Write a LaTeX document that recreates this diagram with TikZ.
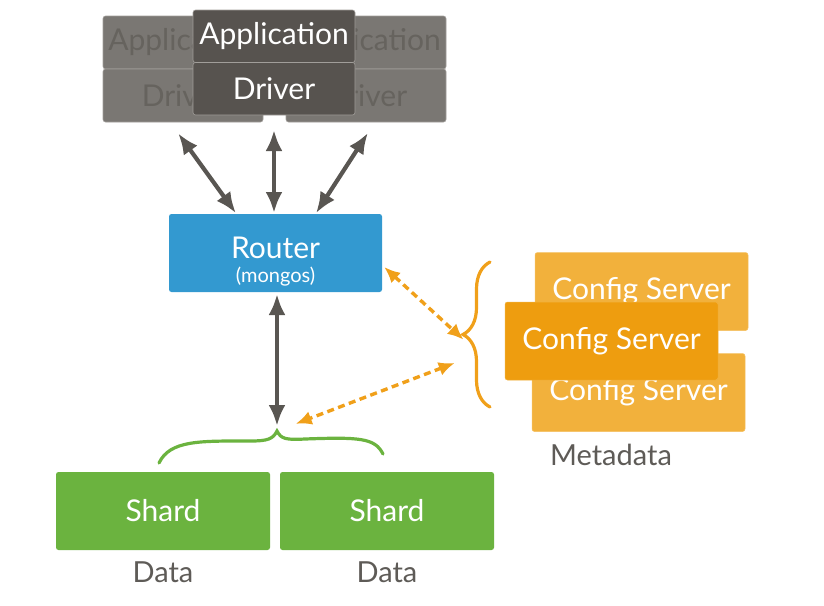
\documentclass[tikz,border=0pt]{standalone}
\usepackage{fontspec}
\setmainfont{Lato}
\usepackage{xcolor}
\usetikzlibrary{arrows.meta,positioning,calc,decorations.pathreplacing}
\definecolor{appdark}{HTML}{57534F}
\definecolor{appback}{HTML}{7A7773}
\definecolor{appbtxt}{HTML}{66635E}
\definecolor{appline}{HTML}{A19E9A}
\definecolor{arrgray}{HTML}{595652}
\definecolor{router}{HTML}{3399D0}
\definecolor{shard}{HTML}{6BB33F}
\definecolor{cfgfront}{HTML}{EE9D0F}
\definecolor{cfgback}{HTML}{F2B13C}
\definecolor{cfgline}{HTML}{F0A01A}
\definecolor{lblgray}{HTML}{5E5B57}
\newcommand{\bigtxt}{\fontsize{30}{34}\selectfont}
\tikzset{
  box/.style={rounded corners=2.5pt, outer sep=0pt, inner sep=0pt,
              align=center, font=\bigtxt, text=white},
  appb/.style={box, fill=appback, draw=appline, line width=0.6pt,
               text=appbtxt, minimum width=160pt, minimum height=53pt},
  appf/.style={box, fill=appdark, draw=appline, line width=0.6pt,
               minimum width=162pt, minimum height=52.5pt},
  routerb/.style={box, fill=router, minimum width=213pt, minimum height=78pt},
  shardb/.style={box, fill=shard, minimum width=214pt, minimum height=78pt},
  cfgb/.style={box, fill=cfgback, draw=cfgback!80!white, line width=0.5pt,
               minimum width=213pt, minimum height=78pt},
  cfgf/.style={cfgb, fill=cfgfront, draw=cfgfront!80!white},
  lbl/.style={font=\fontsize{29}{33}\selectfont, text=lblgray, inner sep=0pt},
  ar/.style={{Latex[length=21pt,width=17pt]}-{Latex[length=21pt,width=17pt]},
             line width=4.2pt, draw=arrgray},
  car/.style={{Latex[length=16pt,width=14pt]}-{Latex[length=16pt,width=14pt]},
              line width=3.4pt, draw=cfgline, dash pattern=on 7pt off 4.5pt},
  brc/.style={line width=3.2pt, line cap=round},
}

\begin{document}
\begin{tikzpicture}[x=1pt, y=-1pt, node distance=0pt]
\useasboundingbox (0,0) rectangle (824,605);

% ---- APPLICATIONS ----
\node[appb] (appL) at (183,42.5) {Application};
\node[appb, below=of appL] (drvL) {Driver};
\node[appb] (appR) at (366,42.5) {Application};
\node[appb, below=of appR] (drvR) {Driver};
\node[appf] (appF) at (274,36.25) {Application};
\node[appf, below=of appF] (drvF) {Driver};

% ---- ROUTER ----
\node[routerb, text height=58pt, text depth=0pt] (rtr) at (275.5,253)
  {Router\\[-10pt]{\fontsize{20}{21}\selectfont (mongos)}};

% ---- SHARDS ----
\node[shardb] (shA) at (163,511) {Shard};
\node[shardb, right=10pt of shA] (shB) {Shard};
\node[lbl, below=12pt of shA] (datA) {Data};
\node[lbl, below=12pt of shB] (datB) {Data};

% ---- CONFIG SERVERS ----
\node[cfgb] (cfgT) at (641.5,291.5) {Config Server};
\node[cfgb] (cfgB) at (638.5,392.5) {Config Server};
\node[cfgf] (cfgM) at (611.5,341) {Config Server};
\node[lbl] (meta) at (611,455) {Metadata};

% ---- braces ----
\coordinate (shTip) at (277,431);
\coordinate (cfgTip) at (465,350);
\draw[brc, draw=shard] (159,463) .. controls (170,440) and (200,441) .. (250,441)
  .. controls (268,441) and (273,439) .. (shTip)
  .. controls (281,439) and (286,440) .. (305,439)
  .. controls (360,437) and (375,438) .. (383,454);
\draw[brc, draw=cfgline, decorate, decoration={brace, amplitude=27pt}]
  (490,407) -- (490,262);

% ---- edges ----
\draw[ar, shorten <=14pt, shorten >=1pt] ([xshift=-13pt]drvL.south) -- ([xshift=-39pt]rtr.north);
\draw[ar, shorten <=15pt, shorten >=1pt] (drvF.south) -- (drvF.south |- rtr.north);
\draw[ar, shorten <=13pt, shorten >=1pt] ([xshift=9pt]drvR.south) -- ([xshift=40pt]rtr.north);
\draw[ar, shorten <=2pt, shorten >=5pt] (rtr.south -| shTip) -- (shTip);

% metadata links = dashed
\draw[car, shorten <=3pt, shorten >=2pt] ([yshift=-12pt]rtr.east) -- ([yshift=9pt]cfgTip);
\draw[car, shorten <=11pt, shorten >=20pt] ([yshift=-9pt]cfgTip) -- (shTip);

\end{tikzpicture}
\end{document}
